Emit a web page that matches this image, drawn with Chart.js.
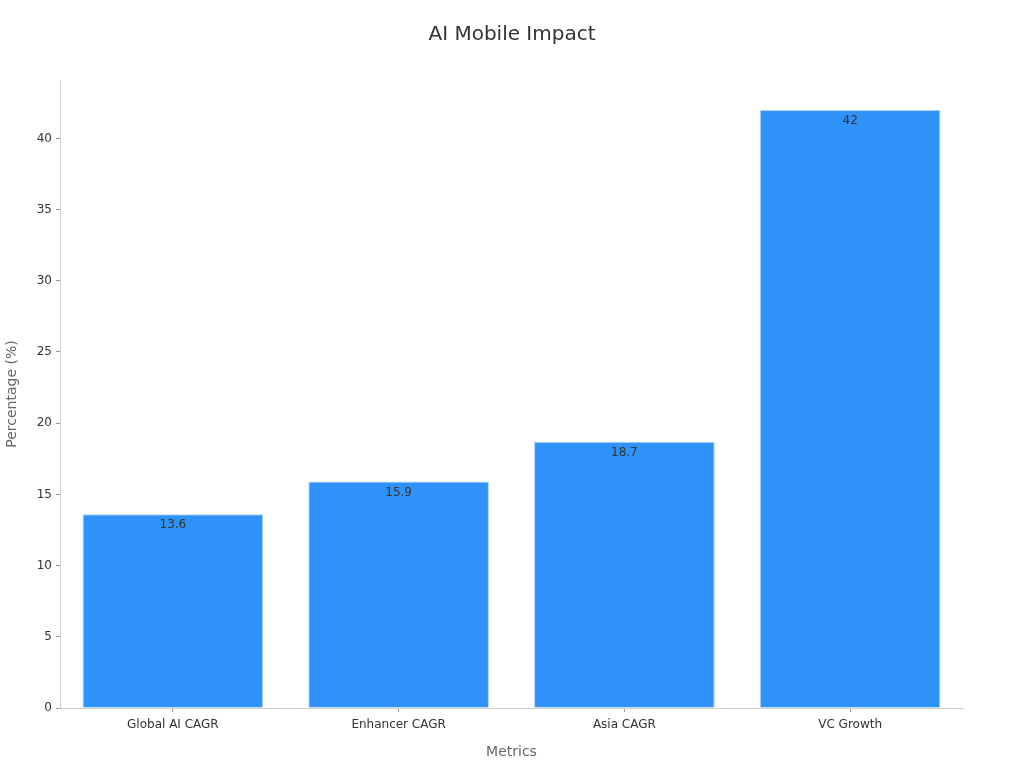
<!DOCTYPE html>
<html>
<head>
<meta charset="utf-8">
<script src="https://cdn.jsdelivr.net/npm/chart.js@4"></script>
<style>
  html, body { margin: 0; padding: 0; background: #fff; }
  #wrap { width: 1024px; height: 768px; }
</style>
</head>
<body>
<div id="wrap"><canvas id="chart" width="1024" height="768"></canvas></div>
<script>
const categories = ['Global AI CAGR', 'Enhancer CAGR', 'Asia CAGR', 'VC Growth'];
const values = [13.6, 15.9, 18.7, 42];
const yTicks = [0, 5, 10, 15, 20, 25, 30, 35, 40];

// draws the value just inside the top of each bar, and the title centred on the page
const valueLabels = {
    id: 'valueLabels',
    afterDatasetsDraw(chart) {
        const ctx = chart.ctx;
        const meta = chart.getDatasetMeta(0);
        ctx.save();
        ctx.font = '12px "DejaVu Sans", sans-serif';
        ctx.fillStyle = '#333';
        ctx.textAlign = 'center';
        ctx.textBaseline = 'top';
        meta.data.forEach((bar, i) => {
            ctx.fillText(String(values[i]), bar.x, bar.y + 5);
        });
        ctx.font = '20px "DejaVu Sans", sans-serif';
        ctx.textBaseline = 'middle';
        ctx.fillText('AI Mobile Impact', chart.width / 2, 35);
        ctx.restore();
    }
};

Chart.defaults.font.family = '"DejaVu Sans", sans-serif';

new Chart(document.getElementById('chart'), {
    type: 'bar',
    data: {
        labels: categories,
        datasets: [{
            data: values,
            backgroundColor: '#2f92f9',
            borderColor: '#a9d1fb',
            borderWidth: 1,
            categoryPercentage: 0.8,
            barPercentage: 1
        }]
    },
    options: {
        responsive: false,
        animation: false,
        layout: { padding: { left: 0, right: 61, top: 80, bottom: 0 } },
        plugins: {
            legend: { display: false },
            tooltip: { enabled: false },
            title: { display: false }
        },
        scales: {
            x: {
                border: { color: '#ccc' },
                grid: { drawOnChartArea: false, offset: false, color: '#999', tickLength: 4 },
                ticks: { color: '#333', font: { size: 12 }, padding: 6 },
                title: { display: true, text: 'Metrics', color: '#666', font: { size: 14 }, padding: { top: 8, bottom: 7 } },
                afterFit(scale) { scale.height = 60; }
            },
            y: {
                min: 0,
                max: 44.1,
                border: { color: '#ccc' },
                grid: { drawOnChartArea: false, color: '#999', tickLength: 4 },
                afterBuildTicks(scale) { scale.ticks = yTicks.map(v => ({ value: v })); },
                ticks: { color: '#333', font: { size: 12 }, padding: 4 },
                title: { display: true, text: 'Percentage (%)', color: '#666', font: { size: 14 }, padding: { bottom: 10 } },
                afterFit(scale) { scale.width = 60; }
            }
        }
    },
    plugins: [valueLabels]
});
</script>
</body>
</html>
